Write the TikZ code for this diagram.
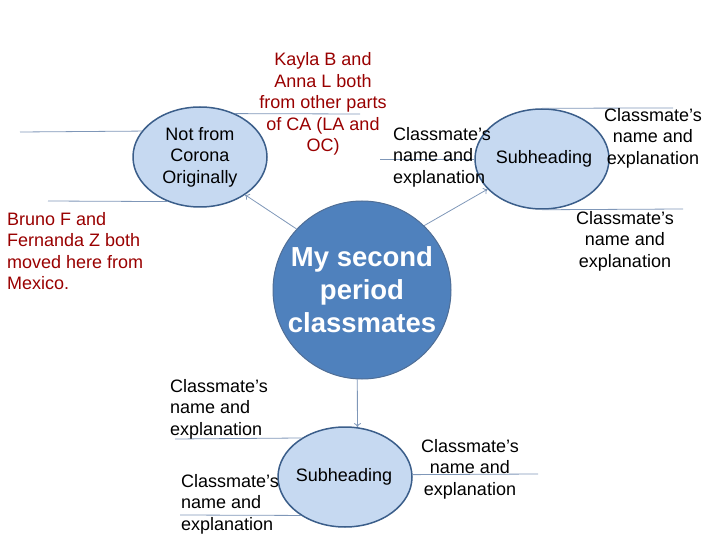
\documentclass[tikz,border=0pt]{standalone}
\usepackage{fontspec}
\setmainfont{Liberation Sans}
\usetikzlibrary{arrows.meta,shapes.geometric}
\definecolor{darkred}{HTML}{990000}
\definecolor{lightfill}{HTML}{C6D9F1}
\definecolor{edgeblue}{HTML}{3B5E8A}
\definecolor{mainblue}{HTML}{4F81BD}
\definecolor{linecol}{HTML}{7F97B8}
\tikzset{
  sub/.style={ellipse, draw=edgeblue, line width=1.5pt, fill=lightfill,
    minimum width=134pt, minimum height=100pt, inner sep=0pt,
    font=\fontsize{18}{21.6}\selectfont, align=center},
  main/.style={circle, draw=edgeblue!90, line width=1pt, fill=mainblue,
    minimum size=178pt, inner sep=0pt, text=white,
    font=\fontsize{27.5}{33}\selectfont\bfseries, align=center},
  txt/.style={inner sep=0pt, font=\fontsize{18}{21.6}\selectfont},
  redtxt/.style={txt, text=darkred},
  plain/.style={draw=linecol, line width=0.8pt},
  arr/.style={draw=linecol, line width=0.8pt, -{To[length=4pt,width=7pt]}},
}
\begin{document}
\begin{tikzpicture}[x=1pt,y=-1pt]
\useasboundingbox (0,0) rectangle (720,540);
% free ends
\coordinate (a1) at (20,132);
\coordinate (a2) at (360,114);
\coordinate (a3) at (48,201);
\coordinate (b1) at (673,108);
\coordinate (b2) at (380,159);
\coordinate (b3) at (683,209);
\coordinate (d1) at (175,439);
\coordinate (d2) at (180,515);
\coordinate (d3) at (538,474);
% ellipses
\node[sub] (e1) at (200,157) {};
\node[sub] (e2) at (542,159) {};
\node[sub] (e3) at (345,477) {};
\draw[plain] (a1) -- (e1.156.7);
\draw[plain] (a2) -- (e1.51.5);
\draw[plain] (a3) -- (e1.234.1);
\draw[plain] (b1) -- (e2.north);
\draw[plain] (b2) -- (e2.west);
\draw[plain] (b3) -- (e2.south);
\draw[plain] (d1) -- (e3.138.9);
\draw[plain] (d2) -- (e3.221.1);
\draw[plain] (d3) -- (e3.2.6);
% ellipse labels
\node[txt, align=center] (t1) at (200,157) {Not from\\Corona\\Originally};
\node[txt] (t2) at (544,159) {Subheading};
\node[txt] (t3) at (344,477) {Subheading};
% centre circle
\node[main] (c0) at (362,290) {My second\\period\\classmates};
\draw[arr] (c0.137) -- (e1.320);
\draw[arr] (c0.46.8) -- (e2.209.4);
\draw[arr] (c0.267) -- (e3.76);
% texts
\node[redtxt, align=center] (k) at (323,104) {Kayla B and\\Anna L both\\from other parts\\of CA (LA and\\OC)};
\node[redtxt, align=left, anchor=west] (bf) at (7,251) {Bruno F and\\Fernanda Z both\\moved here from\\Mexico.};
\node[txt, align=left, anchor=west] (n1) at (393,157) {Classmate’s\\name and\\explanation};
\node[txt, align=center] (n2) at (653,138) {Classmate’s\\name and\\explanation};
\node[txt, align=center] (n3) at (625,241) {Classmate’s\\name and\\explanation};
\node[txt, align=left, anchor=west] (n4) at (170,409) {Classmate’s\\name and\\explanation};
\node[txt, align=left, anchor=west] (n5) at (181,504) {Classmate’s\\name and\\explanation};
\node[txt, align=center] (n6) at (470,469) {Classmate’s\\name and\\explanation};
\end{tikzpicture}
\end{document}
